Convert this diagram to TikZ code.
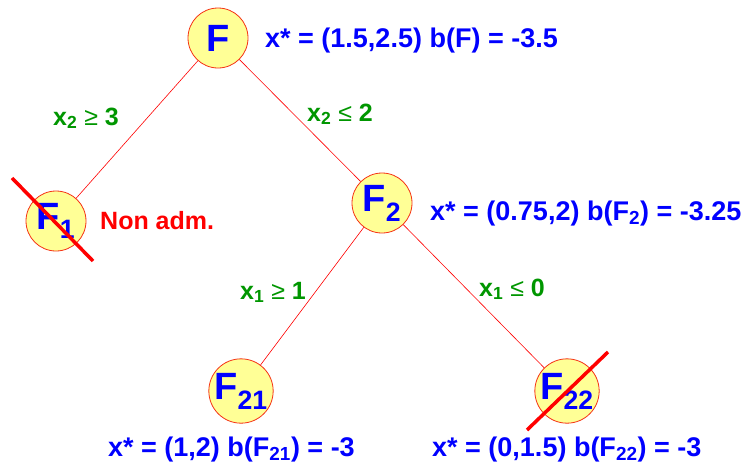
\documentclass[tikz,border=0pt]{standalone}
\usepackage{fontspec}
\setmainfont{Liberation Sans}
\usepackage{tikz}
\usetikzlibrary{positioning}

\definecolor{pbfill}{RGB}{255,255,150}
\definecolor{pbedge}{RGB}{245,50,20}
\definecolor{condgreen}{RGB}{0,150,0}

\tikzset{
  subpb/.style={circle, draw=pbedge, line width=0.8pt, fill=pbfill, minimum size=60pt, inner sep=0pt,
    text=blue, font=\fontsize{38}{40}\selectfont\bfseries},
  sol/.style={anchor=base west, inner sep=0pt, text=blue, font=\fontsize{27}{30}\selectfont\bfseries},
  cond/.style={anchor=base west, inner sep=0pt, text=condgreen, font=\fontsize{25}{28}\selectfont\bfseries},
  branch/.style={red, line width=0.6pt},
  cut/.style={red, line width=3.5pt},
}

\begin{document}
\begin{tikzpicture}[x=1pt, y=-1pt]
  \useasboundingbox (0,0) rectangle (749,466);

  % Subproblems of the branching tree
  \node[subpb] (F) at (218,38) {F};
  \node[subpb] (F1) at (56,221) {F\textsubscript{1}};
  \node[subpb] (F2) at (382,203) {F\textsubscript{2}};
  \node[subpb] (F21) at (241,391) {F\textsubscript{21}};
  \node[subpb] (F22) at (567,391) {F\textsubscript{22}};

  % Branches
  \draw[branch] (F) -- (F1);
  \draw[branch] (F) -- (F2);
  \draw[branch] (F2) -- (F21);
  \draw[branch] (F2) -- (F22);

  % Branching constraints
  \node[cond] (c1) at (53,125) {x\textsubscript{2} {\normalfont ≥} 3};
  \node[cond] (c2) at (307,121) {x\textsubscript{2} {\normalfont ≤} 2};
  \node[cond] (c21) at (240,299) {x\textsubscript{1} {\normalfont ≥} 1};
  \node[cond] (c22) at (479,296) {x\textsubscript{1} {\normalfont ≤} 0};

  % Relaxed solutions and bounds
  \node[sol] (sF) at (265,47) {x* = (1.5,2.5) b(F) = -3.5};
  \node[sol] (sF2) at (430,220) {x* = (0.75,2) b(F\textsubscript{2}) = -3.25};
  \node[sol] (sF21) at (108,456) {x* = (1,2) b(F\textsubscript{21}) = -3};
  \node[sol] (sF22) at (432,456) {x* = (0,1.5) b(F\textsubscript{22}) = -3};
  \node[sol, text=red, font=\fontsize{25}{28}\selectfont\bfseries] (nadm) at (100,229) {Non adm.};

  % Pruned nodes (crossed out)
  \draw[cut] ([shift={(-44,-43)}]F1.center) -- ([shift={(37,40)}]F1.center);
  \draw[cut] ([shift={(41,-39)}]F22.center) -- ([shift={(-40,39)}]F22.center);
\end{tikzpicture}
\end{document}
